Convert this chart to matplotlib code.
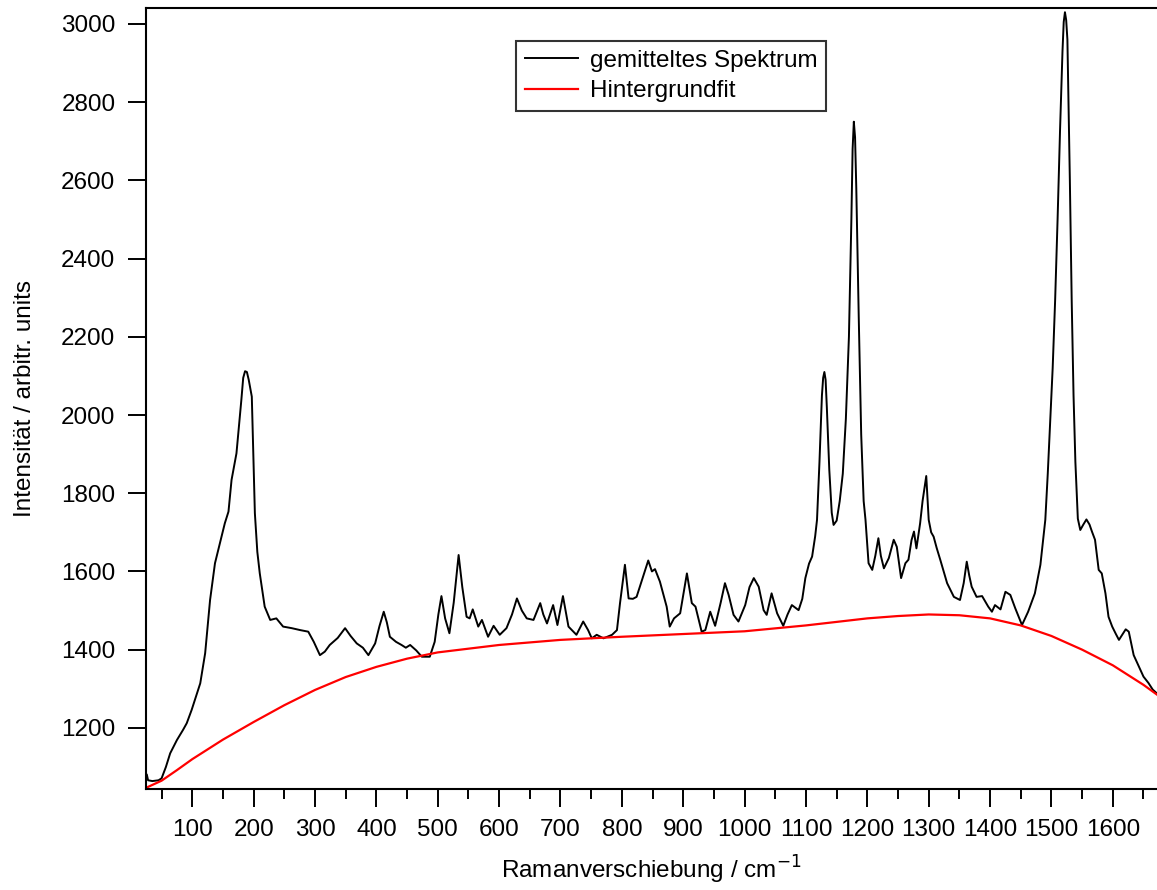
import matplotlib
matplotlib.use("Agg")
import matplotlib.pyplot as plt
from matplotlib.ticker import MultipleLocator

plt.rcParams['font.family'] = ['Liberation Sans', 'DejaVu Sans']

# averaged spectrum (wavenumber / intensity)
spec_x = [26, 28, 35, 45, 50, 57, 64, 75, 85, 91, 99, 106, 113, 121, 125, 129, 137, 145, 153, 159,
          164, 172, 180, 183, 186, 189, 192, 197, 202, 206, 210, 218, 227, 237, 248, 262, 276, 289, 298, 308, 316, 324,
          337, 349, 358, 368, 378, 387, 398, 405, 412, 417, 422, 432, 441, 448, 455, 465, 474, 487, 495, 501,
          506, 512, 519, 526, 534, 540, 547, 552, 557, 566, 572, 582, 591, 601, 612, 621, 629, 637, 645, 656,
          667, 672, 678, 688, 695, 704, 713, 726, 737, 745, 751, 759, 770, 784, 792, 797, 805, 811, 818, 824,
          832, 843, 849, 854, 862, 873, 878, 885, 895, 906, 914, 920, 930, 936, 944, 952, 961, 968, 974, 982,
          990, 1001, 1008, 1015, 1023, 1031, 1036, 1044, 1053, 1063, 1070, 1077, 1088, 1094, 1099, 1105, 1110, 1115, 1118, 1122,
          1126, 1128, 1130, 1132, 1134, 1138, 1142, 1145, 1150, 1155, 1160, 1165, 1170, 1174, 1176, 1178, 1180, 1182, 1186, 1190, 1194, 1197, 1202, 1208,
          1213, 1218, 1222, 1227, 1235, 1243, 1248, 1255, 1262, 1267, 1272, 1276, 1280, 1286, 1290, 1296, 1300, 1304, 1308, 1313,
          1319, 1330, 1341, 1351, 1357, 1362, 1366, 1370, 1378, 1387, 1397, 1403, 1408, 1417, 1425, 1433, 1441, 1452, 1462, 1473,
          1482, 1490, 1494, 1498, 1502, 1506, 1510, 1514, 1518, 1520, 1522, 1524, 1526, 1530, 1533, 1536, 1539, 1543, 1547, 1552, 1557, 1562,
          1566, 1571, 1577, 1582, 1588, 1593, 1599, 1605, 1610, 1616, 1621, 1626, 1634, 1644, 1650, 1658, 1665, 1672]
spec_y = [1080, 1066, 1064, 1066, 1071, 1100, 1135, 1169, 1195, 1212, 1246, 1280, 1314, 1391, 1460, 1527, 1621, 1672, 1723, 1753,
          1834, 1902, 2039, 2095, 2112, 2110, 2090, 2047, 1749, 1650, 1595, 1510, 1476, 1480, 1459, 1455, 1450, 1446, 1420, 1386, 1395, 1412,
          1430, 1455, 1435, 1416, 1405, 1386, 1416, 1460, 1497, 1470, 1433, 1420, 1412, 1405, 1412, 1398, 1382, 1382, 1420, 1490,
          1537, 1480, 1442, 1520, 1642, 1560, 1484, 1480, 1503, 1459, 1476, 1433, 1461, 1438, 1455, 1490, 1531, 1500, 1480, 1476,
          1519, 1490, 1467, 1514, 1463, 1537, 1459, 1438, 1472, 1450, 1429, 1438, 1429, 1438, 1450, 1519, 1617, 1531, 1530, 1535,
          1574, 1628, 1600, 1606, 1574, 1510, 1459, 1480, 1493, 1595, 1519, 1510, 1446, 1450, 1497, 1461, 1520, 1570, 1540, 1489,
          1472, 1514, 1560, 1583, 1561, 1501, 1489, 1544, 1493, 1461, 1490, 1514, 1501, 1530, 1583, 1620, 1638, 1690, 1732, 1880,
          2050, 2095, 2110, 2090, 2020, 1860, 1750, 1719, 1730, 1780, 1850, 1990, 2200, 2500, 2680, 2750, 2710, 2580, 2250, 1950, 1780, 1732, 1621, 1604,
          1640, 1685, 1640, 1608, 1634, 1681, 1663, 1583, 1621, 1630, 1680, 1702, 1659, 1723, 1780, 1844, 1732, 1700, 1689, 1660,
          1629, 1570, 1535, 1527, 1570, 1625, 1590, 1561, 1535, 1537, 1510, 1497, 1514, 1503, 1548, 1540, 1506, 1463, 1497, 1544,
          1617, 1732, 1850, 1985, 2120, 2293, 2500, 2728, 2930, 3005, 3030, 3010, 2960, 2600, 2293, 2050, 1880, 1735, 1706, 1720, 1733, 1720,
          1702, 1681, 1604, 1595, 1544, 1484, 1459, 1440, 1425, 1440, 1452, 1446, 1386, 1352, 1331, 1315, 1298, 1288]

# background fit
bg_x = [25, 50, 75, 100, 150, 200, 250, 300, 350, 400, 450, 500, 600, 700, 800, 900, 1000,
        1100, 1200, 1250, 1300, 1350, 1400, 1450, 1500, 1550, 1600, 1650, 1672]
bg_y = [1047, 1065, 1092, 1120, 1170, 1215, 1258, 1297, 1330, 1356, 1377, 1393, 1412, 1425, 1433, 1440, 1447,
        1462, 1480, 1486, 1490, 1488, 1480, 1462, 1435, 1400, 1360, 1310, 1285]

fig = plt.figure(figsize=(11.57, 8.90), dpi=100)
ax = fig.add_axes([146 / 1157, 1 - 788.5 / 890, 1 - 146 / 1157, (788.5 - 7.5) / 890])

ax.plot(spec_x, spec_y, color='black', lw=1.4, label='gemitteltes Spektrum')
ax.plot(bg_x, bg_y, color='#ff0000', lw=1.6, label='Hintergrundfit')

ax.set_xlim(24.6, 1672)
ax.set_ylim(1045, 3042)
ax.xaxis.set_major_locator(MultipleLocator(100))
ax.xaxis.set_minor_locator(MultipleLocator(50))
ax.yaxis.set_major_locator(MultipleLocator(200))

ax.spines['right'].set_visible(False)
for s in ['left', 'bottom', 'top']:
    ax.spines[s].set_linewidth(1.5)
ax.tick_params(which='major', direction='out', length=13, width=1.4, labelsize=17.5, pad=9)
ax.tick_params(which='minor', direction='out', length=7, width=1.4)
ax.tick_params(axis='y', which='minor', length=0)

ax.set_xlabel('Ramanverschiebung / cm$^{-1}$', fontsize=17.5, labelpad=9)
ax.set_ylabel('Intensität / arbitr. units', fontsize=17.5, labelpad=18)

leg = ax.legend(loc='upper left', bbox_to_anchor=(0.366, 0.957), borderaxespad=0,
                fontsize=17.5, frameon=True, fancybox=False, edgecolor='black',
                handlelength=2.2, handletextpad=0.5, labelspacing=0.35, borderpad=0.35)
leg.get_frame().set_linewidth(1.5)

fig.savefig('out.png', dpi=100)
